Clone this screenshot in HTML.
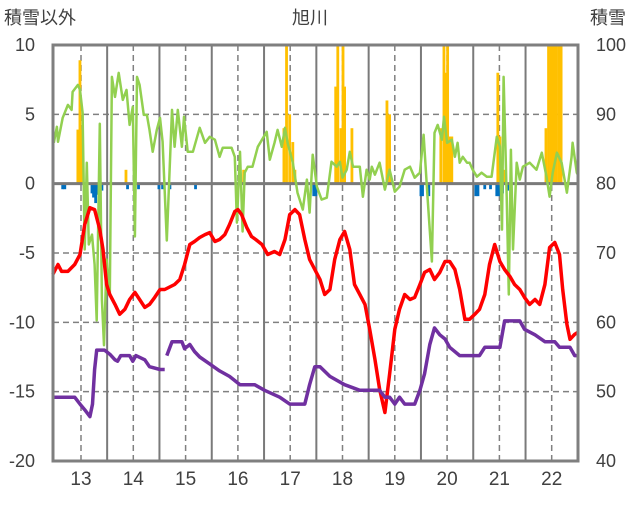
<!DOCTYPE html>
<html><head><meta charset="utf-8"><style>
body{margin:0;background:#fff}
svg text{font-family:"Liberation Sans","Noto Sans CJK JP",sans-serif;fill:#404040}
</style></head><body>
<svg id="c" width="636" height="501" xmlns="http://www.w3.org/2000/svg"></svg>
<script>
const leftTicks=[10,5,0,-5,-10,-15,-20];
const rightTicks=[100,90,80,70,60,50,40];
const yearLabels=[13,14,15,16,17,18,19,20,21,22];
const redT=[12.46,12.56,12.63,12.75,12.88,12.98,13.07,13.17,13.26,13.36,13.42,13.49,13.55,13.65,13.74,13.84,13.93,14.03,14.12,14.22,14.31,14.41,14.51,14.6,14.79,14.89,14.98,15.08,15.17,15.27,15.37,15.46,15.56,15.65,15.75,15.84,15.94,16.0,16.07,16.17,16.26,16.34,16.46,16.57,16.7,16.8,16.9,16.99,17.09,17.18,17.28,17.37,17.47,17.57,17.66,17.76,17.85,17.95,18.04,18.14,18.23,18.33,18.43,18.52,18.62,18.71,18.81,18.9,19.0,19.09,19.19,19.29,19.38,19.48,19.57,19.67,19.76,19.86,19.96,20.05,20.15,20.24,20.34,20.43,20.53,20.62,20.72,20.81,20.91,21.01,21.1,21.2,21.29,21.39,21.48,21.58,21.68,21.77,21.87,21.96,22.06,22.15,22.21,22.29,22.35,22.44,22.5];
const redV=[-6.55,-5.83,-6.33,-6.33,-5.83,-5.11,-2.95,-1.73,-1.87,-3.31,-4.75,-7.27,-7.99,-8.71,-9.42,-9.06,-8.35,-7.84,-8.35,-8.92,-8.71,-8.2,-7.63,-7.63,-7.27,-6.91,-5.83,-4.39,-4.17,-3.88,-3.67,-3.53,-4.17,-4.03,-3.67,-2.95,-2.01,-1.87,-2.23,-3.17,-3.81,-4.03,-4.39,-5.11,-4.89,-5.11,-4.03,-2.23,-1.87,-2.23,-4.03,-5.47,-6.19,-6.91,-7.99,-7.63,-5.47,-4.03,-3.45,-4.75,-7.27,-7.99,-8.71,-10.5,-12.66,-14.82,-16.5,-13.74,-10.5,-9.06,-7.99,-8.35,-8.2,-7.27,-6.4,-6.19,-6.91,-6.4,-5.61,-5.61,-6.19,-7.63,-9.78,-9.78,-9.42,-9.06,-7.99,-5.83,-4.39,-5.61,-6.19,-6.69,-7.27,-7.63,-8.2,-8.71,-8.35,-8.71,-7.27,-4.6,-4.24,-5.11,-7.63,-10.14,-11.22,-10.86,-10.72];
const purT=[12.46,12.88,12.98,13.07,13.17,13.22,13.26,13.3,13.45,13.55,13.65,13.7,13.76,13.93,13.99,14.05,14.22,14.31,14.51,14.6,14.62,14.64,14.74,14.93,14.98,15.08,15.17,15.27,15.46,15.65,15.84,16.04,16.32,16.51,16.8,16.99,17.28,17.37,17.47,17.57,17.76,18.04,18.33,18.71,18.81,18.9,19.0,19.09,19.19,19.38,19.48,19.57,19.67,19.76,19.86,19.96,20.05,20.24,20.62,20.72,21.01,21.1,21.39,21.48,21.68,21.87,22.06,22.15,22.35,22.44,22.5];
const purV=[-15.4,-15.4,-15.9,-16.3,-16.8,-15.9,-13.4,-12.0,-12.0,-12.3,-12.7,-12.8,-12.4,-12.4,-12.8,-12.4,-12.7,-13.2,-13.4,-13.4,null,-12.4,-11.4,-11.4,-11.9,-11.6,-12.1,-12.5,-13.0,-13.5,-13.9,-14.5,-14.5,-14.9,-15.4,-15.9,-15.9,-14.5,-13.2,-13.2,-13.9,-14.5,-14.9,-14.9,-15.4,-15.4,-15.9,-15.4,-15.9,-15.9,-14.9,-13.7,-11.6,-10.4,-10.9,-11.2,-11.8,-12.4,-12.4,-11.8,-11.8,-9.9,-9.9,-10.5,-10.9,-11.4,-11.4,-11.8,-11.8,-12.4,-12.4];
const grnT=[12.48,12.54,12.56,12.65,12.75,12.82,12.84,12.94,12.98,13.03,13.07,13.11,13.15,13.21,13.26,13.3,13.36,13.4,13.44,13.49,13.55,13.59,13.65,13.72,13.8,13.87,13.93,13.99,14.03,14.07,14.12,14.2,14.26,14.31,14.37,14.45,14.51,14.56,14.64,14.74,14.79,14.85,14.93,14.97,15.04,15.14,15.27,15.37,15.46,15.56,15.65,15.71,15.88,15.94,15.98,16.04,16.09,16.13,16.19,16.28,16.38,16.55,16.61,16.7,16.76,16.84,16.9,16.95,17.05,17.14,17.24,17.32,17.37,17.43,17.51,17.6,17.7,17.79,17.89,17.95,18.0,18.08,18.14,18.2,18.33,18.39,18.46,18.52,18.56,18.62,18.71,18.81,18.9,19.0,19.09,19.19,19.29,19.38,19.48,19.55,19.63,19.71,19.76,19.82,19.9,19.94,20.0,20.09,20.15,20.2,20.24,20.3,20.38,20.43,20.49,20.57,20.66,20.76,20.85,20.95,21.01,21.05,21.08,21.14,21.18,21.22,21.26,21.33,21.39,21.45,21.58,21.71,21.81,21.9,21.96,22.02,22.1,22.19,22.29,22.38,22.4,22.48,22.5];
const grnV=[2.95,4.1,3.02,4.75,5.68,5.32,6.62,7.12,6.76,5.11,-4.75,1.51,-4.39,-3.67,-5.83,-9.86,4.32,-8.35,-11.65,-5.47,-8.06,7.7,6.26,7.99,6.04,6.76,4.24,5.54,-3.81,7.7,7.12,4.96,4.96,3.88,2.3,3.88,4.75,3.02,-4.1,5.32,2.66,5.32,2.66,4.82,2.3,2.3,4.03,2.95,3.38,3.17,1.94,2.59,2.59,1.94,-2.81,2.3,-3.45,0.79,1.22,1.22,2.66,3.74,1.73,2.95,3.88,2.66,4.03,2.95,1.51,-0.65,-1.87,0.29,-2.09,2.09,-0.22,-1.15,-1.01,1.58,1.22,1.58,0.43,1.01,2.3,1.22,1.22,-0.94,1.01,0.29,1.22,0.65,1.51,-0.43,1.01,-0.58,-0.22,1.01,1.22,0.43,0.79,3.53,-1.15,-5.61,3.67,4.24,3.17,4.82,2.95,3.17,1.94,2.95,1.51,1.94,1.51,1.51,1.01,0.5,0.79,0.5,0.5,3.38,2.66,-3.31,7.7,-0.94,-7.99,2.45,-4.75,1.51,0.29,1.22,1.51,1.01,2.23,0.5,-0.94,0.79,2.23,1.51,-0.65,1.94,2.95,0.79,0.65];
const snowBarT=[12.94,12.98,13.01,13.86,16.11,16.88,16.93,16.99,17.05,17.09,17.87,17.91,17.97,18.01,18.04,18.18,18.85,18.9,19.88,19.94,19.97,20.01,20.05,20.09,20.97,21.01,21.06,21.1,21.89,21.94,21.99,22.04,22.09,22.14,22.18];
const snowBarV=[3.9,8.9,3.9,1.0,1.0,4,10,5,3,1,7,10,4,10,7,4,6,5,4,10,8,10,3.4,3.4,8,3.4,1,1,4,10,10,10,10,10,10];
const negBarT=[12.65,12.69,13.21,13.24,13.28,13.32,13.4,13.89,14.1,14.49,14.56,14.7,15.19,17.45,17.49,19.5,19.53,19.65,20.55,20.59,20.72,20.83,20.95,20.99,21.03,21.06,21.16];
const negBarV=[-0.4,-0.4,-0.7,-1.0,-1.4,-0.8,-0.5,-0.4,-0.4,-0.4,-0.4,-0.4,-0.4,-0.9,-0.9,-0.9,-0.9,-0.9,-0.9,-0.9,-0.4,-0.4,-0.9,-0.9,-0.9,-0.7,-0.5];

const L=53,R=578,T=45,B=461;
const X=t=>81+(t-13)*52.3;
const Y=v=>T+(10-v)*(B-T)/30;
const svg=document.getElementById('c');
const NS='http://www.w3.org/2000/svg';
function mk(tag,attrs,parent){const e=document.createElementNS(NS,tag);for(const k in attrs)e.setAttribute(k,attrs[k]);(parent||svg).appendChild(e);return e;}

// grid
for(const v of leftTicks){ if(v===10||v===-20||v===0)continue;
 const g=mk('line',{x1:L,x2:R,y1:Y(v),y2:Y(v),stroke:'#808080','stroke-width':1.5,'stroke-dasharray':'6,4'});
 
 }
for(const yr of yearLabels){
 const d=mk('line',{x1:X(yr),x2:X(yr),y1:T,y2:B,stroke:'#808080','stroke-width':1.5,'stroke-dasharray':'6,4'});
 
 
 if(yr<22){const s=mk('line',{x1:X(yr+0.5),x2:X(yr+0.5),y1:T,y2:B,stroke:'#7a7a7a','stroke-width':2});
 
 }
}
// bars
snowBarT.forEach((t,i)=>{const v=snowBarV[i];
 const b=mk('rect',{x:X(t)-1.4,y:Y(v),width:2.8,height:Y(0)-Y(v),fill:'#ffc000'});
 
 });
negBarT.forEach((t,i)=>{const v=negBarV[i];
 const b=mk('rect',{x:X(t)-1.4,y:Y(0),width:2.8,height:Y(v)-Y(0),fill:'#0070c0'});
 
 });
// zero line
const z=mk('line',{x1:L,x2:R,y1:Y(0),y2:Y(0),stroke:'#7a7a7a','stroke-width':3});


function path(ts,vs){let d='',pen=false;ts.forEach((t,i)=>{const v=vs[i];if(v===null){pen=false;return;}d+=(pen?'L':'M')+X(t).toFixed(1)+','+Y(v).toFixed(1);pen=true;});return d;}
const gl=mk('path',{d:path(grnT,grnV),fill:'none',stroke:'#92d050','stroke-width':2.5,'stroke-linejoin':'round'});


const rl=mk('path',{d:path(redT,redV),fill:'none',stroke:'#ff0000','stroke-width':3.5,'stroke-linejoin':'round'});


const pl=mk('path',{d:path(purT,purV),fill:'none',stroke:'#7030a0','stroke-width':3.5,'stroke-linejoin':'round'});


// frame
const f=mk('rect',{x:L,y:T,width:R-L,height:B-T,fill:'none',stroke:'#7f7f7f','stroke-width':3});


// labels
leftTicks.forEach(v=>{const t=mk('text',{x:35,y:Y(v)+6,'text-anchor':'end','font-size':18});t.textContent=v;
 
 });
rightTicks.forEach((v,i)=>{const t=mk('text',{x:596,y:Y(leftTicks[i])+6,'font-size':18});t.textContent=v;
 
 });
yearLabels.forEach(v=>{const t=mk('text',{x:X(v),y:485,'text-anchor':'middle','font-size':19});t.textContent=v;
 
 });
const t1=mk('text',{x:4,y:24,'font-size':18});t1.textContent='積雪以外';


const t2=mk('text',{x:590,y:24,'font-size':18});t2.textContent='積雪';


const t3=mk('text',{x:310,y:24,'font-size':18,'text-anchor':'middle'});t3.textContent='旭川';


</script>
</body></html>
